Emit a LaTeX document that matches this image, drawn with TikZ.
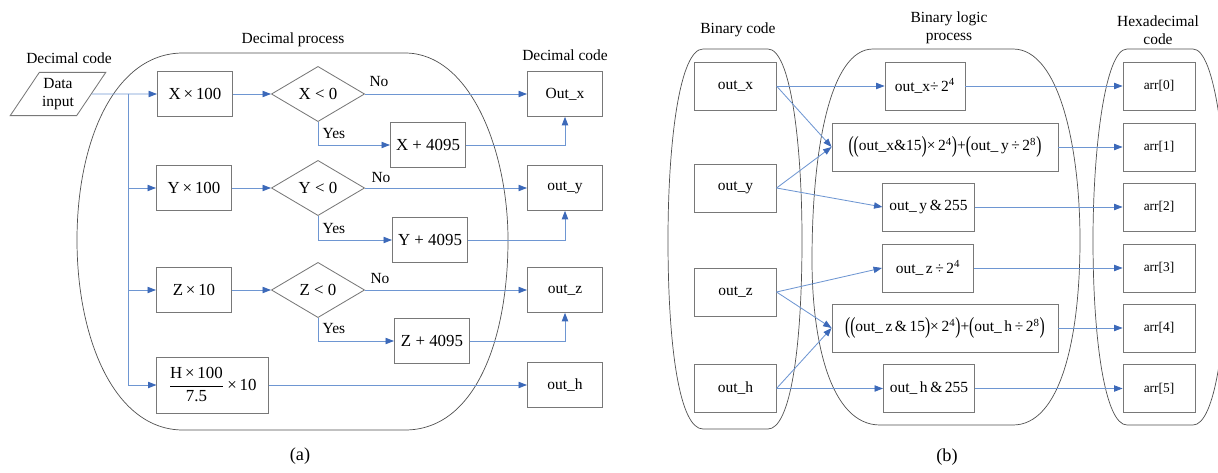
\documentclass[tikz,border=0pt]{standalone}
\usepackage{fontspec}
\setmainfont{Liberation Serif}
\usetikzlibrary{arrows.meta,shapes.geometric}

\definecolor{linkblue}{RGB}{110,150,210}
\definecolor{tipblue}{RGB}{60,105,185}
\definecolor{boxgray}{RGB}{120,120,120}
\definecolor{rimgray}{RGB}{80,80,80}

\newcommand\tallp[1]{\raisebox{-0.25ex}{\scalebox{1}[1.5]{#1}}}

\tikzset{
  box/.style={draw=boxgray,line width=0.6pt,inner sep=0pt,minimum width=#1,minimum height=1.12cm},
  box/.default=1.88cm,
  bbox/.style={box=#1,minimum height=1.2cm},
  test/.style={diamond,draw=boxgray,line width=0.6pt,inner sep=0pt,minimum width=2.33cm,minimum height=1.38cm},
  link/.style={draw=linkblue,line width=0.6pt,-{Triangle[length=6pt,width=4.5pt,color=tipblue]}},
  rim/.style={draw=rimgray,line width=0.5pt},
  word/.style={font=\fontsize{11}{13}\selectfont},
  small/.style={font=\fontsize{9.5}{11}\selectfont}
}

\begin{document}
\begin{tikzpicture}[x=0.025cm,y=-0.025cm,font=\fontsize{11}{13}\selectfont]
  \useasboundingbox (0,0) rectangle (1218,473);

  % (a) decimal process
  \draw[rim] (183,53) -- (405,53) .. controls (470,53) and (508,150) .. (508,240)
    .. controls (508,340) and (475,430) .. (405,430) -- (183,430)
    .. controls (115,430) and (77,340) .. (77,240) .. controls (77,140) and (115,53) .. (183,53);

  \node[word] (deccode) at (69,58) {Decimal code};
  \node[word] (decproc) at (293,40) {Decimal process};
  \node[word] (deccode2) at (565,55) {Decimal code};
  \node[font=\fontsize{13}{15}\selectfont] (capa) at (300,456) {(a)};

  \node[trapezium,trapezium stretches=true,trapezium left angle=52,trapezium right angle=128,
        draw=boxgray,line width=0.6pt,inner sep=0pt,minimum width=2.4cm,minimum height=1.08cm,align=center]
        (inp) at (58,94) {Data\\input};

  \node[box,font=\fontsize{12}{14}\selectfont] (xm) at (195,94) {X\,×\,100};
  \node[box,font=\fontsize{12}{14}\selectfont] (ym) at (194,188) {Y\,×\,100};
  \node[box,font=\fontsize{12}{14}\selectfont] (zm) at (194,290) {Z\,×\,10};
  \node[box=2.78cm,minimum height=1.4cm,font=\fontsize{12}{14}\selectfont] (hm) at (212.5,385)
        {$\displaystyle\frac{\textnormal{H\,×\,100}}{\textnormal{7.5}}$\,×\,10};

  \node[test,font=\fontsize{12}{14}\selectfont] (xd) at (318,94) {X < 0};
  \node[test,font=\fontsize{12}{14}\selectfont] (yd) at (318,188) {Y < 0};
  \node[test,font=\fontsize{12}{14}\selectfont] (zd) at (318,290) {Z < 0};

  \node[box,font=\fontsize{12}{14}\selectfont] (xa) at (428,145) {X + 4095};
  \node[box,font=\fontsize{12}{14}\selectfont] (ya) at (430,240) {Y + 4095};
  \node[box,font=\fontsize{12}{14}\selectfont] (za) at (432,341) {Z + 4095};

  \node[box] (xo) at (565,94) {Out\_x};
  \node[box] (yo) at (565,188) {out\_y};
  \node[box] (zo) at (565,290) {out\_z};
  \node[box] (ho) at (565,385) {out\_h};

  \node (xno) at (379,82) {No};
  \node (yno) at (381,178) {No};
  \node (zno) at (380,279) {No};
  \node (xyes) at (334,134) {Yes};
  \node (yyes) at (334,229) {Yes};
  \node (zyes) at (334,329) {Yes};

  \coordinate (split) at (128,94);
  \draw[link] (inp) -- (xm);
  \draw[link] (split) |- (ym.west);
  \draw[link] (split) |- (zm.west);
  \draw[link] (split) |- (hm.west);

  \draw[link] (xm) -- (xd);
  \draw[link] (ym) -- (yd);
  \draw[link] (zm) -- (zd);

  \draw[link] (xd) -- (xo);
  \draw[link] (yd) -- (yo);
  \draw[link] (zd) -- (zo);
  \draw[link] (hm) -- (ho);

  \draw[link] (xd.south) |- (xa.west);
  \draw[link] (yd.south) |- (ya.west);
  \draw[link] (zd.south) |- (za.west);

  \draw[link] (xa.east) -| (xo.south);
  \draw[link] (ya.east) -| (yo.south);
  \draw[link] (za.east) -| (zo.south);

  % (b) binary logic process
  \draw[rim] (703,49) -- (768,49) .. controls (790,49) and (802,140) .. (802,240)
    .. controls (802,350) and (790,429) .. (768,429) -- (703,429)
    .. controls (680,429) and (668,350) .. (668,240) .. controls (668,140) and (680,49) .. (703,49);
  \draw[rim] (873,49) -- (1013,49) .. controls (1060,49) and (1080,150) .. (1080,240)
    .. controls (1080,340) and (1060,425) .. (1013,425) -- (880,425)
    .. controls (830,425) and (812,340) .. (812,260) .. controls (812,150) and (830,49) .. (873,49);
  \draw[rim] (1127,49) -- (1193,49) .. controls (1215,49) and (1227,150) .. (1227,240)
    .. controls (1227,340) and (1215,425) .. (1193,425) -- (1127,425)
    .. controls (1105,425) and (1093,340) .. (1093,240) .. controls (1093,150) and (1105,49) .. (1127,49);

  \node[word] (bincode) at (738,30) {Binary code};
  \node[word,align=center] (binproc) at (949,28) {Binary logic\\process};
  \node[word,align=center] (hexcode) at (1158,30) {Hexadecimal\\code};
  \node[font=\fontsize{13}{15}\selectfont] (capb) at (947,457) {(b)};

  \node[bbox=2.03cm] (bx) at (735.5,86) {out\_x};
  \node[bbox=2.03cm] (by) at (735.5,188) {out\_y};
  \node[bbox=2.03cm] (bz) at (735.5,292) {out\_z};
  \node[bbox=2.03cm] (bh) at (735.5,388.5) {out\_h};

  \node[bbox=2cm] (l0) at (925,86) {out\_x÷\,2\textsuperscript{4}};
  \node[bbox=5.65cm] (l1) at (945,147)
        {\tallp{(}\tallp{(}out\_x\&15\tallp{)}×\,2\textsuperscript{4}\tallp{)}+\tallp{(}out\_\,y\,÷\,2\textsuperscript{8}\tallp{)}};
  \node[bbox=2.28cm] (l2) at (928.5,207) {out\_\,y\,\&\,255};
  \node[bbox=2.28cm] (l3) at (928,268) {out\_\,z\,÷\,2\textsuperscript{4}};
  \node[bbox=5.65cm] (l4) at (945,328)
        {\tallp{(}\tallp{(}out\_\,z\,\&\,15\tallp{)}×\,2\textsuperscript{4}\tallp{)}+\tallp{(}out\_\,h\,÷\,2\textsuperscript{8}\tallp{)}};
  \node[bbox=2.28cm] (l5) at (929,388.5) {out\_\,h\,\&\,255};

  \node[bbox=1.8cm,small] (a0) at (1159,86) {arr[0]};
  \node[bbox=1.8cm,small] (a1) at (1159,147) {arr[1]};
  \node[bbox=1.8cm,small] (a2) at (1159,207) {arr[2]};
  \node[bbox=1.8cm,small] (a3) at (1159,268) {arr[3]};
  \node[bbox=1.8cm,small] (a4) at (1159,328) {arr[4]};
  \node[bbox=1.8cm,small] (a5) at (1159,388.5) {arr[5]};

  \draw[link] (bx.east) -- (l0.west);
  \draw[link] (bx.east) -- (l1.west);
  \draw[link] (by.east) -- (l1.west);
  \draw[link] (by.east) -- (l2.west);
  \draw[link] (bz.east) -- (l3.west);
  \draw[link] (bz.east) -- (l4.west);
  \draw[link] (bh.east) -- (l4.west);
  \draw[link] (bh.east) -- (l5.west);

  \draw[link] (l0) -- (a0);
  \draw[link] (l1) -- (a1);
  \draw[link] (l2) -- (a2);
  \draw[link] (l3) -- (a3);
  \draw[link] (l4) -- (a4);
  \draw[link] (l5) -- (a5);
\end{tikzpicture}
\end{document}
